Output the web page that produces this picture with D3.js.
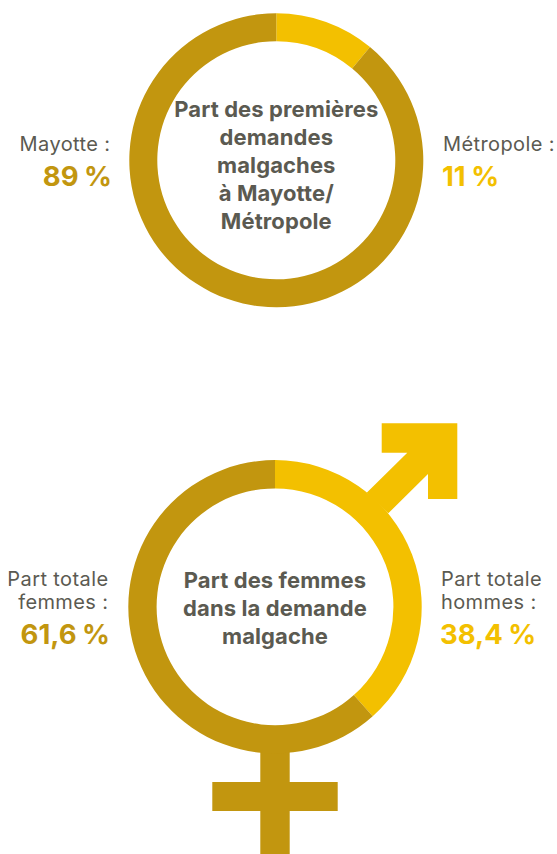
<!DOCTYPE html>
<html><head><meta charset="utf-8">
<script src="https://cdn.jsdelivr.net/npm/d3@7"></script>
<style>html,body{margin:0;padding:0;background:#fff}svg{display:block}text{font-family:Inter,sans-serif}</style>
</head><body><svg id="c" width="557" height="854"></svg>
<script>
const colorDark = "#c2960f", colorLight = "#f3c000", colorText = "#5b5a51";
const chart1Categories = ["Métropole", "Mayotte"];
const chart1Values = [11, 89];
const chart1Title = ["Part des premières", "demandes", "malgaches", "à Mayotte/", "Métropole"];
const chart2Categories = ["Hommes", "Femmes"];
const chart2Values = [38.4, 61.6];
const chart2Title = ["Part des femmes", "dans la demande", "malgache"];

const svg = d3.select("#c");
const pie = d3.pie().sort(null).value(d => d);
const colour = d3.scaleOrdinal().domain([0, 1]).range([colorLight, colorDark]);

function ring(cx, cy, R, r, values, title, titleY) {
  const g = svg.append("g").attr("transform", `translate(${cx},${cy})`);
  const arc = d3.arc().innerRadius(r).outerRadius(R);
  g.selectAll("path").data(pie(values)).join("path")
    .attr("d", arc).attr("fill", (d, i) => colour(i));
  svg.append("g").selectAll("text").data(title).join("text")
    .attr("x", cx).attr("y", (d, i) => titleY + i * 28)
    .attr("text-anchor", "middle").attr("font-size", 22).attr("letter-spacing", 0.1).attr("font-weight", 700)
    .attr("fill", colorText).text(d => d);
}
function label(x, anchor, lines, ys, value, valueY, color) {
  const g = svg.append("g");
  g.selectAll("text.l").data(lines).join("text").attr("class", "l")
    .attr("x", x).attr("y", (d, i) => ys[i]).attr("text-anchor", anchor)
    .attr("font-size", 20).attr("letter-spacing", 0.4).attr("fill", colorText).text(d => d);
  g.append("text").attr("x", x + (anchor === "end" ? 1.5 : -1)).attr("y", valueY).attr("text-anchor", anchor)
    .attr("font-size", 27.5).attr("font-weight", 700).attr("word-spacing", -1).attr("fill", color).text(value);
}

// male glyph (drawn behind the ring)
svg.append("path").attr("fill", colorLight)
  .attr("d", "M381.7,423.3H457.3V499H428V474L388.3,513.3L366.7,492.7L407.3,452.7H381.7Z");
// female glyph
svg.append("path").attr("fill", colorDark)
  .attr("d", "M260.3,745H289.7V782H337.7V811H289.7V854H260.3V811H212.3V782H260.3Z");

ring(276.3, 160.3, 147, 119, chart1Values, chart1Title, 117);
ring(275, 606.8, 146.7, 118.4, chart2Values, chart2Title, 587.5);

label(110.5, "end", ["Mayotte :"], [150.5], "89 %", 186, colorDark);
label(443, "start", ["Métropole :"], [150.5], "11 %", 186, colorLight);
label(108.5, "end", ["Part totale", "femmes :"], [585.5, 609], "61,6 %", 644, colorDark);
label(441, "start", ["Part totale", "hommes :"], [585.5, 609], "38,4 %", 644, colorLight);
</script></body></html>
